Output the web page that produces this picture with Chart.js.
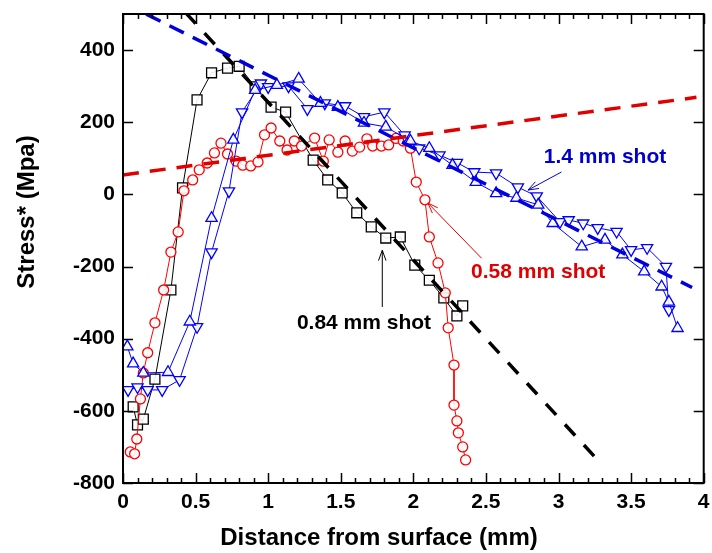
<!DOCTYPE html>
<html>
<head>
<meta charset="utf-8">
<title>Stress vs distance from surface</title>
<script src="https://cdn.jsdelivr.net/npm/chart.js@4/dist/chart.umd.min.js"></script>
<style>
    html, body { margin: 0; padding: 0; background: #fff; }
    #wrap { width: 712px; height: 553px; }
</style>
</head>
<body>
<div id="wrap"><canvas id="stressChart" width="712" height="553"></canvas></div>
<script>
// =========================================================
// Data
// =========================================================

const xTicks = [0, 0.5, 1, 1.5, 2, 2.5, 3, 3.5, 4];
const yTicks = [-800, -600, -400, -200, 0, 200, 400];

// 0.84 mm shot (black squares)
const shot084X = [0.07, 0.10, 0.14, 0.22, 0.33, 0.41, 0.51, 0.61, 0.72, 0.80, 0.91, 1.02, 1.12, 1.31, 1.41, 1.51, 1.61, 1.71, 1.81, 1.91, 2.01, 2.11, 2.21, 2.30, 2.34];
const shot084Y = [-589, -639, -623, -512, -265, 18, 262, 337, 350, 355, 298, 242, 228, 95, 40, 4, -51, -90, -121, -118, -196, -238, -287, -337, -309];

// 0.58 mm shot (red circles)
const shot058X = [0.05, 0.08, 0.095, 0.12, 0.14, 0.17, 0.22, 0.28, 0.33, 0.38, 0.42, 0.48, 0.525, 0.58, 0.63, 0.675, 0.72, 0.78, 0.825, 0.88, 0.93, 0.975, 1.02, 1.08, 1.13, 1.18, 1.23, 1.32, 1.38, 1.42, 1.48, 1.53, 1.58, 1.63, 1.68, 1.72, 1.78, 1.83, 1.88, 1.93, 1.98, 2.02, 2.08, 2.11, 2.17, 2.22, 2.24, 2.28, 2.28, 2.30, 2.31, 2.34, 2.36];
const shot058Y = [-714, -719, -678, -567, -495, -439, -356, -265, -160, -104, 10, 40, 68, 87, 115, 142, 112, 92, 81, 79, 90, 165, 184, 148, 123, 148, 134, 156, 92, 151, 117, 148, 120, 131, 154, 134, 134, 137, 155, 148, 128, 34, -15, -118, -190, -273, -370, -473, -584, -628, -661, -700, -736];

// 1.4 mm shot, first profile (blue up triangles)
const shot14aX = [0.03, 0.07, 0.14, 0.31, 0.46, 0.61, 0.76, 0.91, 1.06, 1.21, 1.36, 1.48, 1.66, 1.81, 1.98, 2.11, 2.27, 2.43, 2.57, 2.71, 2.86, 2.96, 3.16, 3.32, 3.44, 3.59, 3.71, 3.76, 3.82];
const shot14aY = [-422, -469, -495, -493, -353, -66, 151, 289, 303, 320, 253, 242, 198, 187, 148, 128, 81, 34, 3, -10, -29, -80, -145, -126, -167, -214, -256, -298, -371];

// 1.4 mm shot, second profile (blue down triangles)
const shot14bX = [0.035, 0.10, 0.17, 0.27, 0.39, 0.51, 0.61, 0.73, 0.82, 0.95, 1.00, 1.14, 1.27, 1.39, 1.53, 1.66, 1.80, 1.94, 2.04, 2.18, 2.30, 2.42, 2.57, 2.72, 2.85, 3.01, 3.07, 3.17, 3.27, 3.40, 3.50, 3.61, 3.74, 3.76];
const shot14bY = [-542, -534, -542, -542, -514, -367, -160, 9, 228, 308, 298, 300, 237, 253, 245, 215, 228, 164, 128, 109, 88, 62, 59, 20, -5, -76, -71, -80, -93, -103, -154, -148, -200, -320];

// dashed linear fits (end points)
const fit14X = [0, 3.92];
const fit14Y = [532, -258];
const fit058X = [0, 3.95];
const fit058Y = [54, 269];
const fit084X = [0.3, 3.29];
const fit084Y = [561, -745];

// annotations: [text, textX, textY, arrowFromX, arrowFromY, arrowToX, arrowToY, colour]
const notes = [
    ['1.4 mm shot', 3.32, 103, 3.02, 62, 2.79, 12, '#0000cc'],
    ['0.58 mm shot', 2.86, -215, 2.47, -177, 2.10, -24, '#e00000'],
    ['0.84 mm shot', 1.66, -356, 1.786, -312, 1.786, -155, '#000000'],
];

function pts(xs, ys) {
    return xs.map((x, i) => ({ x: x, y: ys[i] }));
}

const FONT = '"Liberation Sans", Arial, sans-serif';

// =========================================================
// Frame, inward ticks, titles and arrows
// =========================================================

const framePlugin = {
    id: 'frame',
    afterDraw(chart) {
        const ctx = chart.ctx;
        const a = chart.chartArea;
        const xs = chart.scales.x;
        const ys = chart.scales.y;
        ctx.save();
        ctx.strokeStyle = '#000';
        ctx.lineWidth = 2;
        ctx.strokeRect(a.left, a.top, a.right - a.left, a.bottom - a.top);

        // x ticks: major every 0.5, minor every 0.1, top and bottom
        ctx.lineWidth = 1.5;
        ctx.beginPath();
        for (let i = 0; i <= 40; i++) {
            const px = Math.round(xs.getPixelForValue(i / 10)) + 0.5;
            const len = i % 5 === 0 ? 10 : 5;
            ctx.moveTo(px, a.bottom); ctx.lineTo(px, a.bottom - len);
            ctx.moveTo(px, a.top); ctx.lineTo(px, a.top + len);
        }
        // y ticks: major only, left and right
        yTicks.forEach(v => {
            const py = Math.round(ys.getPixelForValue(v)) + 0.5;
            ctx.moveTo(a.left, py); ctx.lineTo(a.left + 10, py);
            ctx.moveTo(a.right, py); ctx.lineTo(a.right - 10, py);
        });
        ctx.stroke();

        // axis titles
        ctx.fillStyle = '#000';
        ctx.font = 'bold 24px ' + FONT;
        ctx.textAlign = 'center';
        ctx.textBaseline = 'middle';
        ctx.fillText('Distance from surface (mm)', 379, 538);
        ctx.save();
        ctx.translate(27, 212);
        ctx.rotate(-Math.PI / 2);
        ctx.fillText('Stress* (Mpa)', 0, 0);
        ctx.restore();

        // annotation texts and arrows
        notes.forEach(n => {
            const [txt, tx, ty, fx, fy, ax, ay, col] = n;
            ctx.fillStyle = col;
            ctx.strokeStyle = col;
            ctx.font = 'bold 21px ' + FONT;
            ctx.fillText(txt, xs.getPixelForValue(tx), ys.getPixelForValue(ty));
            const x1 = xs.getPixelForValue(fx), y1 = ys.getPixelForValue(fy);
            const x2 = xs.getPixelForValue(ax), y2 = ys.getPixelForValue(ay);
            ctx.lineWidth = 1;
            ctx.beginPath();
            ctx.moveTo(x1, y1); ctx.lineTo(x2, y2);
            const ang = Math.atan2(y2 - y1, x2 - x1);
            const h = 11, w = 0.35;
            ctx.moveTo(x2 - h * Math.cos(ang - w), y2 - h * Math.sin(ang - w));
            ctx.lineTo(x2, y2);
            ctx.lineTo(x2 - h * Math.cos(ang + w), y2 - h * Math.sin(ang + w));
            ctx.stroke();
        });
        ctx.restore();
    }
};

// =========================================================
// Chart
// =========================================================

function fitLine(xs, ys, color, dash) {
    return {
        data: pts(xs, ys),
        showLine: true,
        borderColor: color,
        borderWidth: 3.5,
        borderDash: dash,
        pointRadius: 0,
        order: 0,
    };
}

function series(xs, ys, color, style, radius, rotation) {
    return {
        data: pts(xs, ys),
        showLine: true,
        borderColor: color,
        borderWidth: 1,
        pointStyle: style,
        pointRadius: radius,
        pointRotation: rotation || 0,
        pointBorderColor: color,
        pointBorderWidth: 1.3,
        pointBackgroundColor: 'rgba(255,255,255,0.9)',
        order: 1,
    };
}

const chart = new Chart(document.getElementById('stressChart'), {
    type: 'scatter',
    data: {
        datasets: [
            series(shot14aX, shot14aY, '#0000ff', 'triangle', 6.5),
            series(shot14bX, shot14bY, '#0000ff', 'triangle', 6.5, 180),
            series(shot058X, shot058Y, '#ff0000', 'circle', 5),
            series(shot084X, shot084Y, '#000000', 'rect', 7),
            fitLine(fit058X, fit058Y, '#e00000', [16, 11]),
            fitLine(fit14X, fit14Y, '#0000dd', [16, 10]),
            fitLine(fit084X, fit084Y, '#000000', [15, 13]),
        ]
    },
    options: {
        responsive: false,
        animation: false,
        layout: { padding: { top: 14, right: -3, left: 0, bottom: 0 } },
        plugins: {
            legend: { display: false },
            tooltip: { enabled: false },
        },
        scales: {
            x: {
                type: 'linear',
                min: 0,
                max: 4,
                grid: { display: false, drawTicks: false },
                border: { display: false },
                afterBuildTicks: s => { s.ticks = xTicks.map(v => ({ value: v })); },
                afterFit: s => { s.height = 70; s.paddingLeft = 0; s.paddingRight = 0; },
                ticks: {
                    color: '#000',
                    padding: 7,
                    maxRotation: 0,
                    callback: v => String(v),
                    font: { family: FONT, size: 21, weight: 'bold' },
                },
            },
            y: {
                type: 'linear',
                min: -800,
                max: 500,
                grid: { display: false, drawTicks: false },
                border: { display: false },
                afterBuildTicks: s => { s.ticks = yTicks.map(v => ({ value: v })); },
                afterFit: s => { s.width = 123; s.paddingTop = 0; s.paddingBottom = 0; },
                ticks: {
                    color: '#000',
                    padding: 8,
                    callback: v => String(v),
                    font: { family: FONT, size: 21, weight: 'bold' },
                },
            },
        },
    },
    plugins: [framePlugin],
});
</script>
</body>
</html>
